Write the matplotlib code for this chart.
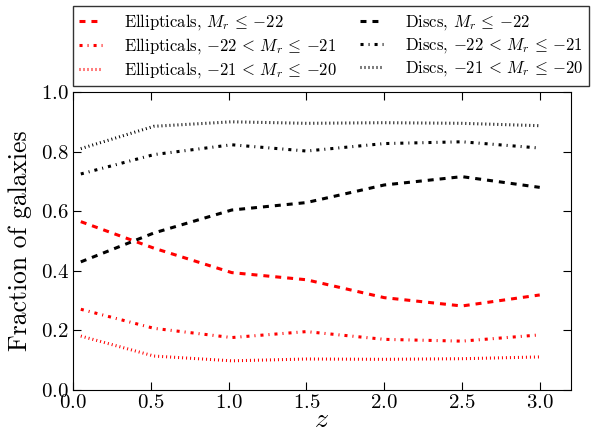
import matplotlib
matplotlib.use('Agg')
import matplotlib.pyplot as plt

plt.rcParams['font.family'] = 'serif'
plt.rcParams['font.serif'] = ['cmr10']
plt.rcParams['mathtext.fontset'] = 'cm'
plt.rcParams['axes.formatter.use_mathtext'] = True
plt.rcParams['lines.scale_dashes'] = False

z = [0.05, 0.52, 1.02, 1.5, 2.0, 2.5, 3.0]

ell_bright = [0.565, 0.476, 0.394, 0.370, 0.310, 0.282, 0.319]
ell_mid = [0.271, 0.207, 0.176, 0.196, 0.170, 0.164, 0.185]
ell_faint = [0.181, 0.114, 0.098, 0.104, 0.103, 0.105, 0.111]

disc_bright = [0.430, 0.527, 0.604, 0.629, 0.688, 0.716, 0.680]
disc_mid = [0.725, 0.790, 0.823, 0.802, 0.827, 0.833, 0.812]
disc_faint = [0.810, 0.885, 0.900, 0.895, 0.897, 0.895, 0.887]

labels_ell = [r'Ellipticals, $M_r \,\leq\, {-22}$',
              r'Ellipticals, ${-22} \,<\, M_r \,\leq\, {-21}$',
              r'Ellipticals, ${-21} \,<\, M_r \,\leq\, {-20}$']
labels_disc = [r'Discs, $M_r \,\leq\, {-22}$',
               r'Discs, ${-22} \,<\, M_r \,\leq\, {-21}$',
               r'Discs, ${-21} \,<\, M_r \,\leq\, {-20}$']

# classic-style dash patterns (in points, not scaled by line width)
dash_patterns = [(4.3, 4.3), (2.2, 3.6, 0.72, 3.6), (0.72, 2.16)]

fig = plt.figure(figsize=(6.06, 4.3), dpi=100)
ax = fig.add_axes([0.1205, 0.093, 0.8215, 0.693])

for ys, d, lab in zip([ell_bright, ell_mid, ell_faint], dash_patterns, labels_ell):
    ax.plot(z, ys, color='red', dashes=d, lw=2.2, label=lab)
for ys, d, lab in zip([disc_bright, disc_mid, disc_faint], dash_patterns, labels_disc):
    ax.plot(z, ys, color='black', dashes=d, lw=2.2, label=lab)

ax.set_xlim(0, 3.2)
ax.set_ylim(0, 1.0)
ax.set_xticks([0.0, 0.5, 1.0, 1.5, 2.0, 2.5, 3.0])
ax.set_yticks([0.0, 0.2, 0.4, 0.6, 0.8, 1.0])
ax.tick_params(direction='in', top=True, right=True, labelsize=15, length=6, pad=3)
ax.set_xlabel(r'$z$', fontsize=20, labelpad=-4)
ax.set_ylabel('Fraction of galaxies', fontsize=18.5, labelpad=6)

leg = ax.legend(ncol=2, loc='lower left', bbox_to_anchor=(0.0, 1.02),
                fontsize=12, fancybox=False, edgecolor='black',
                handlelength=1.4, handletextpad=1.3, columnspacing=1.4,
                labelspacing=0.25, borderaxespad=0, borderpad=0.35)
leg.get_frame().set_linewidth(1.0)

fig.savefig('out.png', dpi=100)
